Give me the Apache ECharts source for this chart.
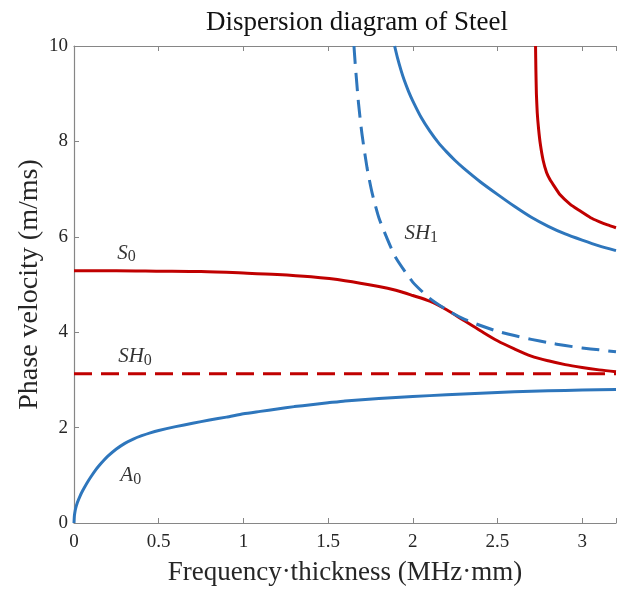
<!DOCTYPE html>
<html>
<head>
<meta charset="utf-8">
<script src="https://cdn.jsdelivr.net/npm/echarts@6/dist/echarts.min.js"></script>
<style>
  html, body { margin: 0; padding: 0; background: #fff; overflow: hidden; }
  #chart { width: 619px; height: 591px; }
</style>
</head>
<body>
<div id="chart"></div>
<script>
// Lamb and shear-horizontal wave modes of a steel plate
// x: frequency-thickness (MHz·mm), y: phase velocity (m/ms)

const xTicks = [0, 0.5, 1, 1.5, 2, 2.5, 3];
const yTicks = [0, 2, 4, 6, 8, 10];

// A0 antisymmetric mode
const a0X = [0, 0.002, 0.005, 0.01, 0.02, 0.035, 0.05, 0.075, 0.1, 0.125, 0.15, 0.175, 0.2, 0.25, 0.3, 0.35, 0.4, 0.45, 0.5, 0.6, 0.7, 0.8, 0.9, 1.0, 1.1, 1.2, 1.3, 1.4, 1.5, 1.6, 1.8, 2.0, 2.2, 2.4, 2.6, 2.8, 3.0, 3.2];
const a0Y = [0, 0.14, 0.22, 0.31, 0.43, 0.56, 0.67, 0.83, 0.97, 1.1, 1.21, 1.31, 1.4, 1.55, 1.67, 1.76, 1.83, 1.89, 1.94, 2.02, 2.09, 2.16, 2.22, 2.29, 2.34, 2.39, 2.44, 2.48, 2.52, 2.56, 2.61, 2.65, 2.69, 2.72, 2.75, 2.77, 2.79, 2.8];

// S0 symmetric mode
const s0X = [0, 0.25, 0.5, 0.75, 1.0, 1.2, 1.4, 1.6, 1.8, 1.9, 2.0, 2.1, 2.2, 2.3, 2.4, 2.5, 2.6, 2.7, 2.8, 2.9, 3.0, 3.1, 3.2];
const s0Y = [5.29, 5.29, 5.28, 5.27, 5.24, 5.21, 5.16, 5.08, 4.96, 4.88, 4.77, 4.65, 4.47, 4.25, 4.03, 3.82, 3.65, 3.5, 3.4, 3.32, 3.26, 3.21, 3.17];

// SH0 shear-horizontal mode (non-dispersive)
const sh0X = [0, 3.2];
const sh0Y = [3.13, 3.13];

// SH1 shear-horizontal mode
const sh1X = [1.653, 1.66, 1.68, 1.7, 1.73, 1.76, 1.8, 1.85, 1.9, 2.0, 2.1, 2.2, 2.3, 2.4, 2.5, 2.6, 2.7, 2.8, 2.9, 3.0, 3.1, 3.2];
const sh1Y = [10.0, 9.64, 8.79, 8.16, 7.45, 6.92, 6.4, 5.95, 5.56, 5.05, 4.71, 4.47, 4.28, 4.14, 4.02, 3.93, 3.85, 3.78, 3.72, 3.67, 3.63, 3.59];

// A1 antisymmetric mode
const a1X = [1.893, 1.91, 1.93, 1.95, 1.975, 2.0, 2.05, 2.1, 2.15, 2.2, 2.25, 2.3, 2.4, 2.5, 2.6, 2.7, 2.8, 2.9, 3.0, 3.1, 3.2];
const a1Y = [10.0, 9.75, 9.5, 9.28, 9.05, 8.85, 8.5, 8.22, 7.98, 7.78, 7.6, 7.44, 7.15, 6.89, 6.64, 6.41, 6.22, 6.06, 5.93, 5.81, 5.71];

// S1 symmetric mode
const s1X = [2.725, 2.727, 2.73, 2.735, 2.743, 2.753, 2.77, 2.79, 2.81, 2.83, 2.87, 2.93, 2.98, 3.05, 3.1, 3.15, 3.2];
const s1Y = [10.0, 9.5, 9.0, 8.6, 8.26, 7.95, 7.6, 7.35, 7.2, 7.09, 6.88, 6.68, 6.56, 6.4, 6.32, 6.25, 6.19];

// Mode labels: [x, y, letters, subscript]
const modeLabels = [
  [0.31, 5.66, 'S', '0'],
  [0.36, 3.49, 'SH', '0'],
  [2.05, 6.07, 'SH', '1'],
  [0.335, 0.99, 'A', '0']
];

const BLUE = '#2E76BC';
const RED = '#C00000';
const AXIS = '#868686';
const TXT = '#262626';
const SERIF = '"Liberation Serif", "DejaVu Serif", serif';

const zip = (xs, ys) => xs.map((x, i) => [x, ys[i]]);

function curve(name, xs, ys, color, dashed, smooth) {
  return {
    name: name,
    type: 'line',
    data: zip(xs, ys),
    showSymbol: false,
    smooth: smooth || false,
    lineStyle: {
      color: color,
      width: 3,
      type: dashed ? [18, 9] : 'solid',
      cap: 'butt',
      join: 'round'
    },
    clip: true,
    silent: true,
    z: 3
  };
}

const chart = echarts.init(document.getElementById('chart'), null, { renderer: 'canvas' });

const axisCommon = {
  axisLine: { show: true, lineStyle: { color: AXIS, width: 1.2 } },
  axisTick: { show: true, inside: true, length: 5, lineStyle: { color: AXIS } },
  splitLine: { show: false },
  nameMoveOverlap: false
};

const option = {
  animation: false,
  backgroundColor: '#ffffff',
  title: {
    text: 'Dispersion diagram of Steel',
    left: 352,
    top: 4,
    textAlign: 'center',
    textStyle: { fontFamily: SERIF, fontSize: 27, fontWeight: 'normal', color: '#111' }
  },
  grid: { left: 74, top: 46, width: 545, height: 484, containLabel: false },
  xAxis: [
    Object.assign({
      type: 'value', min: 0, max: 3.2, interval: 0.5,
      name: 'Frequency·thickness (MHz·mm)',
      nameLocation: 'middle', nameGap: 36,
      nameTextStyle: { fontFamily: SERIF, fontSize: 27, color: TXT },
      axisLabel: {
        fontFamily: SERIF, fontSize: 19, color: TXT, margin: 10,
        formatter: v => {
          const r = Math.round(v * 10) / 10;
          return xTicks.indexOf(r) >= 0 ? String(r) : '';
        }
      }
    }, axisCommon),
    Object.assign({
      type: 'value', min: 0, max: 3.2, interval: 0.5, position: 'top',
      axisLabel: { show: false }
    }, axisCommon)
  ],
  yAxis: Object.assign({
    type: 'value', min: 0, max: 10, interval: 2,
    name: 'Phase velocity (m/ms)',
    nameLocation: 'middle', nameGap: 30,
    nameTextStyle: { fontFamily: SERIF, fontSize: 28, color: TXT },
    axisLabel: {
      fontFamily: SERIF, fontSize: 19, color: TXT, margin: 6,
      formatter: v => (yTicks.indexOf(v) >= 0 ? String(v) : '')
    }
  }, axisCommon),
  series: [
    curve('A0', a0X, a0Y, BLUE, false, 0.2),
    curve('S0', s0X, s0Y, RED, false, 0.3),
    curve('SH0', sh0X, sh0Y, RED, true, false),
    curve('SH1', sh1X, sh1Y, BLUE, true, 0.2),
    curve('A1', a1X, a1Y, BLUE, false, 0.2),
    curve('S1', s1X, s1Y, RED, false, 0.15),
    {
      name: 'labels',
      type: 'scatter',
      symbolSize: 0,
      silent: true,
      data: modeLabels.map(m => ({ value: [m[0], m[1]], main: m[2], sub: m[3] })),
      label: {
        show: true,
        position: 'inside',
        formatter: p => '{m|' + p.data.main + '}{s|' + p.data.sub + '}',
        rich: {
          m: { fontFamily: SERIF, fontStyle: 'italic', fontSize: 21, color: '#000' },
          s: { fontFamily: SERIF, fontSize: 16, color: '#000', verticalAlign: 'bottom', padding: [8, 0, 0, 0] }
        }
      },
      z: 5
    }
  ]
};

chart.setOption(option);
</script>
</body>
</html>
